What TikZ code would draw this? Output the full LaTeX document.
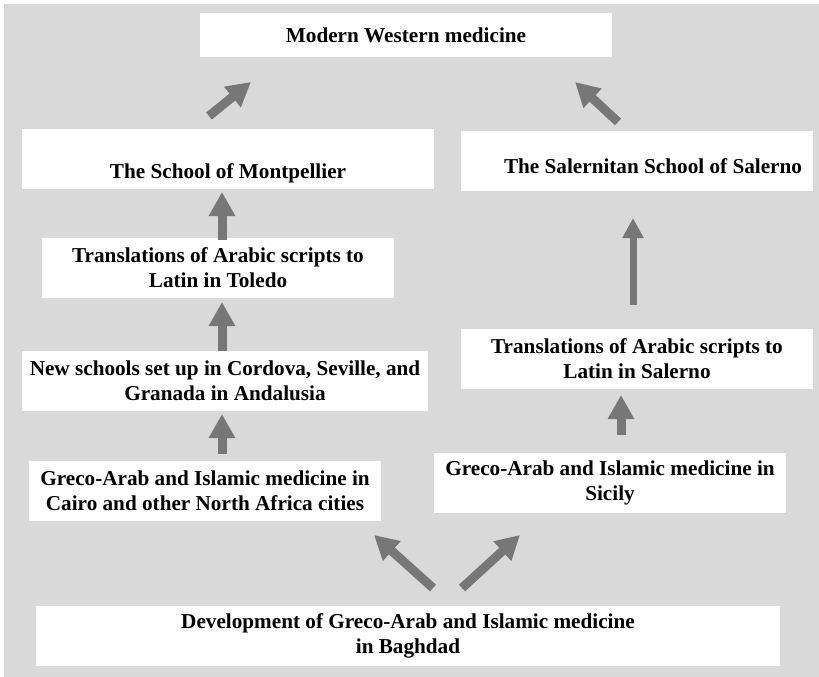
\documentclass[tikz,border=0pt]{standalone}
\usepackage{fontspec}
\setmainfont{Liberation Serif}
\usetikzlibrary{arrows.meta}

\definecolor{panel}{HTML}{D9D9D9}
\definecolor{flow}{HTML}{777777}

% shift a label inside its box without changing the box size
\newcommand\nudge[3]{\hspace*{#1}\raisebox{#2}[\height][\depth]{#3}}

\begin{document}
\begin{tikzpicture}[x=1pt,y=-1pt,
  every node/.style={font=\fontsize{21.2}{25}\selectfont\bfseries},
  box/.style={fill=white, draw=none, inner sep=0pt, align=center,
              minimum height=60pt},
  flowarrow/.style={draw=flow, line width=9pt,
              -{Triangle[length=24pt,width=25pt]}},
  thinflow/.style={draw=flow, line width=7pt,
              -{Triangle[length=20pt,width=20pt]}}]

  % canvas
  \useasboundingbox (0,0) rectangle (819,677);
  \fill[white] (0,0) rectangle (819,677);
  \fill[panel] (4,4) rectangle (819,677);

  % boxes
  \node[box, minimum width=412pt, minimum height=44pt] (modern) at (406,35)
    {Modern Western medicine};
  \node[box, minimum width=412pt] (mont) at (228,159)
    {\nudge{0pt}{-14pt}{The School of Montpellier}};
  \node[box, minimum width=352pt] (salschool) at (637,161)
    {\nudge{32pt}{-5pt}{The Salernitan School of Salerno}};
  \node[box, minimum width=352pt] (toledo) at (218,268)
    {Translations of Arabic scripts to\\Latin in Toledo};
  \node[box, minimum width=406pt] (andalusia) at (225,381)
    {New schools set up in Cordova, Seville, and\\Granada in Andalusia};
  \node[box, minimum width=352pt] (cairo) at (205,491)
    {Greco-Arab and Islamic medicine in\\Cairo and other North Africa cities};
  \node[box, minimum width=352pt] (salerno) at (637,358.5)
    {Translations of Arabic scripts to\\Latin in Salerno};
  \node[box, minimum width=352pt] (sicily) at (610,483)
    {Greco-Arab and Islamic medicine in\\Sicily};
  \node[box, minimum width=744pt] (baghdad) at (408,636)
    {Development of Greco-Arab and Islamic medicine\\in Baghdad};

  % arrow ends
  \coordinate (montOut)    at (209,116);
  \coordinate (modernInL)  at (251,82);
  \coordinate (salOut)     at (618,122);
  \coordinate (modernInR)  at (575,82);
  \coordinate (toledoOut)  at (222,240);
  \coordinate (montIn)     at (222,192);
  \coordinate (andOut)     at (222,351);
  \coordinate (toledoIn)   at (222,302);
  \coordinate (cairoOut)   at (222,454);
  \coordinate (andIn)      at (222,414);
  \coordinate (salernoOut) at (633,305);
  \coordinate (salIn)      at (633,218);
  \coordinate (sicilyOut)  at (621,435);
  \coordinate (salernoIn)  at (621,395);
  \coordinate (bagOutL)    at (433,588);
  \coordinate (cairoIn)    at (374,535);
  \coordinate (bagOutR)    at (462,588);
  \coordinate (sicilyIn)   at (520,535);

  % flow of knowledge
  \draw[flowarrow] (montOut) -- (modernInL);
  \draw[flowarrow] (salOut) -- (modernInR);
  \draw[flowarrow] (toledoOut) -- (montIn);
  \draw[flowarrow] (andOut) -- (toledoIn);
  \draw[flowarrow] (cairoOut) -- (andIn);
  \draw[thinflow]  (salernoOut) -- (salIn);
  \draw[flowarrow] (sicilyOut) -- (salernoIn);
  \draw[flowarrow] (bagOutL) -- (cairoIn);
  \draw[flowarrow] (bagOutR) -- (sicilyIn);
\end{tikzpicture}
\end{document}
